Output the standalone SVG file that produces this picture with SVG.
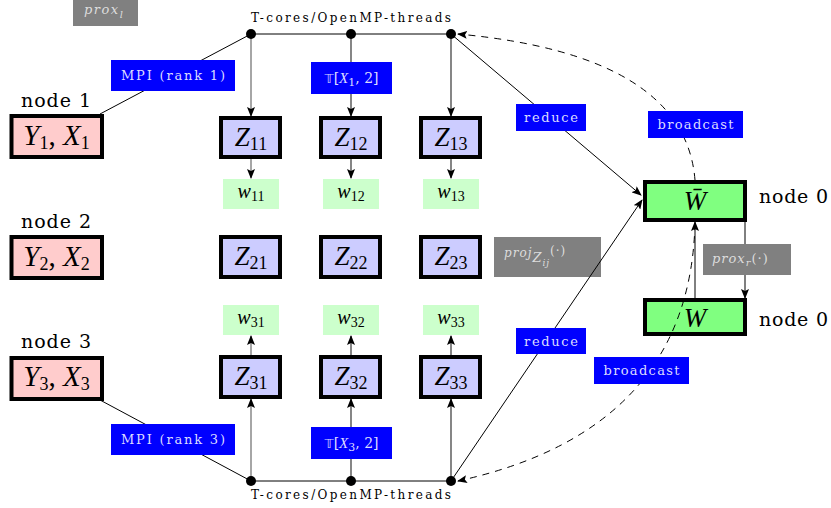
<svg xmlns="http://www.w3.org/2000/svg" width="831" height="508" viewBox="0 0 831 508">
<style>
text{font-family:"Liberation Serif","DejaVu Serif",serif;fill:#000}
.it{font-style:italic}
.big{font-size:27px}
.yxt{font-size:29px}
.sub{font-size:18px}
.nlab{font-family:"DejaVu Serif","Liberation Serif",serif;font-size:19px}
.yx rect{fill:#ffcccc;stroke:#000;stroke-width:4}
.z rect{fill:#ccccff;stroke:#000;stroke-width:4}
.wb rect{fill:#80ff80;stroke:#000;stroke-width:4}
.wl rect{fill:#ccffcc}
.wl text{font-size:20px}
.blue rect{fill:#0000ff}
.blue text{fill:#dcdcff;font-size:13px;font-family:"DejaVu Serif","Liberation Serif",serif}
.gray rect{fill:#808080}
.gray text{fill:#dddddd;font-family:"DejaVu Serif","Liberation Serif",serif}
.ln{stroke:#000;stroke-width:1;fill:none}
.gl{stroke:#808080;stroke-width:1.4;fill:none}
.dl{stroke:#222;stroke-width:1.1;fill:none}
.dash{stroke:#000;stroke-width:1;fill:none;stroke-dasharray:7 6}
.bus{font-size:12px;font-family:"DejaVu Serif","Liberation Serif",serif}
</style>
<defs>
<marker id="ah" markerWidth="10" markerHeight="8" refX="9" refY="4" orient="auto" markerUnits="userSpaceOnUse">
<path d="M0,0 L10,4 L0,8 L2,4 Z" fill="#000"/>
</marker>
</defs>

<!-- data nodes -->
<g id="node1" class="yx">
<rect x="11.5" y="116" width="90.5" height="41"/>
<text x="21" y="107" class="nlab" textLength="70">node 1</text>
<text x="56.5" y="145" class="yxt" text-anchor="middle"><tspan class="it">Y</tspan><tspan class="sub" dy="4">1</tspan><tspan dy="-4">, </tspan><tspan class="it">X</tspan><tspan class="sub" dy="4">1</tspan></text>
</g>
<g id="node2" class="yx">
<rect x="11.5" y="237" width="90.5" height="41"/>
<text x="21" y="228" class="nlab" textLength="70">node 2</text>
<text x="56.5" y="266" class="yxt" text-anchor="middle"><tspan class="it">Y</tspan><tspan class="sub" dy="4">2</tspan><tspan dy="-4">, </tspan><tspan class="it">X</tspan><tspan class="sub" dy="4">2</tspan></text>
</g>
<g id="node3" class="yx">
<rect x="11.5" y="358" width="90.5" height="41"/>
<text x="21" y="348" class="nlab" textLength="70">node 3</text>
<text x="56.5" y="386" class="yxt" text-anchor="middle"><tspan class="it">Y</tspan><tspan class="sub" dy="4">3</tspan><tspan dy="-4">, </tspan><tspan class="it">X</tspan><tspan class="sub" dy="4">3</tspan></text>
</g>

<!-- Z nodes -->
<g id="Z11" class="z"><rect x="221" y="118" width="59" height="39"/><text x="251" y="146" class="big" text-anchor="middle"><tspan class="it">Z</tspan><tspan class="sub" dy="4">11</tspan></text></g>
<g id="Z12" class="z"><rect x="321" y="118" width="59" height="39"/><text x="351" y="146" class="big" text-anchor="middle"><tspan class="it">Z</tspan><tspan class="sub" dy="4">12</tspan></text></g>
<g id="Z13" class="z"><rect x="421" y="118" width="59" height="39"/><text x="451" y="146" class="big" text-anchor="middle"><tspan class="it">Z</tspan><tspan class="sub" dy="4">13</tspan></text></g>
<g id="Z21" class="z"><rect x="221" y="237" width="59" height="40"/><text x="251" y="265" class="big" text-anchor="middle"><tspan class="it">Z</tspan><tspan class="sub" dy="4">21</tspan></text></g>
<g id="Z22" class="z"><rect x="321" y="237" width="59" height="40"/><text x="351" y="265" class="big" text-anchor="middle"><tspan class="it">Z</tspan><tspan class="sub" dy="4">22</tspan></text></g>
<g id="Z23" class="z"><rect x="421" y="237" width="59" height="40"/><text x="451" y="265" class="big" text-anchor="middle"><tspan class="it">Z</tspan><tspan class="sub" dy="4">23</tspan></text></g>
<g id="Z31" class="z"><rect x="221" y="357" width="59" height="40"/><text x="251" y="385" class="big" text-anchor="middle"><tspan class="it">Z</tspan><tspan class="sub" dy="4">31</tspan></text></g>
<g id="Z32" class="z"><rect x="321" y="357" width="59" height="40"/><text x="351" y="385" class="big" text-anchor="middle"><tspan class="it">Z</tspan><tspan class="sub" dy="4">32</tspan></text></g>
<g id="Z33" class="z"><rect x="421" y="357" width="59" height="40"/><text x="451" y="385" class="big" text-anchor="middle"><tspan class="it">Z</tspan><tspan class="sub" dy="4">33</tspan></text></g>

<!-- w labels -->
<g id="w11" class="wl"><rect x="223" y="179" width="56" height="30"/><text x="251" y="198" text-anchor="middle"><tspan class="it">w</tspan><tspan font-size="14" dy="3">11</tspan></text></g>
<g id="w12" class="wl"><rect x="323" y="179" width="56" height="30"/><text x="351" y="198" text-anchor="middle"><tspan class="it">w</tspan><tspan font-size="14" dy="3">12</tspan></text></g>
<g id="w13" class="wl"><rect x="423" y="179" width="56" height="30"/><text x="451" y="198" text-anchor="middle"><tspan class="it">w</tspan><tspan font-size="14" dy="3">13</tspan></text></g>
<g id="w31" class="wl"><rect x="223" y="305" width="56" height="30"/><text x="251" y="324" text-anchor="middle"><tspan class="it">w</tspan><tspan font-size="14" dy="3">31</tspan></text></g>
<g id="w32" class="wl"><rect x="323" y="305" width="56" height="30"/><text x="351" y="324" text-anchor="middle"><tspan class="it">w</tspan><tspan font-size="14" dy="3">32</tspan></text></g>
<g id="w33" class="wl"><rect x="423" y="305" width="56" height="30"/><text x="451" y="324" text-anchor="middle"><tspan class="it">w</tspan><tspan font-size="14" dy="3">33</tspan></text></g>

<!-- W nodes -->
<g id="Wbar" class="wb">
<rect x="645" y="182" width="100" height="38"/>
<text x="695" y="210" class="big it" text-anchor="middle">W̄</text>
<text x="759" y="203" class="nlab" textLength="69">node 0</text>
</g>
<g id="W" class="wb">
<rect x="645" y="300" width="100" height="34"/>
<text x="695" y="327" class="big it" text-anchor="middle">W</text>
<text x="759" y="326" class="nlab" textLength="69">node 0</text>
</g>

<!-- gray operator labels -->
<g id="proxl" class="gray">
<rect x="73" y="0" width="65" height="26"/>
<text x="84" y="14" letter-spacing="1.5"><tspan class="it" font-size="13">prox</tspan><tspan class="it" font-size="10" dy="4">l</tspan></text>
</g>
<g id="projZ" class="gray">
<rect x="494" y="237" width="107" height="40"/>
<text x="504" y="257" letter-spacing="1"><tspan class="it" font-size="12">proj</tspan><tspan class="it" font-size="13" dy="5">Z</tspan><tspan class="it" font-size="9" dy="4">ij</tspan><tspan font-size="12" dy="-11">(·)</tspan></text>
</g>

<!-- connectors -->
<g id="connectors">
<line class="ln" x1="251" y1="34" x2="451" y2="34"/>
<line class="ln" x1="251" y1="481" x2="451" y2="481"/>
<line class="ln" x1="100" y1="114" x2="251" y2="34"/>
<line class="ln" x1="100" y1="400" x2="251" y2="481"/>
<line class="gl" x1="251" y1="34" x2="251" y2="116" marker-end="url(#ah)"/>
<line class="dl" x1="351" y1="34" x2="351" y2="116" marker-end="url(#ah)"/>
<line class="dl" x1="451" y1="34" x2="451" y2="116" marker-end="url(#ah)"/>
<line class="gl" x1="251" y1="481" x2="251" y2="399" marker-end="url(#ah)"/>
<line class="dl" x1="351" y1="481" x2="351" y2="399" marker-end="url(#ah)"/>
<line class="dl" x1="451" y1="481" x2="451" y2="399" marker-end="url(#ah)"/>
<line class="gl" x1="251" y1="159" x2="251" y2="178" marker-end="url(#ah)"/>
<line class="dl" x1="351" y1="159" x2="351" y2="178" marker-end="url(#ah)"/>
<line class="dl" x1="451" y1="159" x2="451" y2="178" marker-end="url(#ah)"/>
<line class="gl" x1="251" y1="355" x2="251" y2="336" marker-end="url(#ah)"/>
<line class="dl" x1="351" y1="355" x2="351" y2="336" marker-end="url(#ah)"/>
<line class="dl" x1="451" y1="355" x2="451" y2="336" marker-end="url(#ah)"/>
<line class="ln" x1="451" y1="34" x2="641" y2="195" marker-end="url(#ah)"/>
<line class="ln" x1="451" y1="481" x2="642" y2="200" marker-end="url(#ah)"/>
<line class="ln" x1="745" y1="222" x2="745" y2="298" marker-end="url(#ah)"/>
<line class="ln" x1="695" y1="298" x2="695" y2="222" marker-end="url(#ah)"/>
<path class="dash" d="M695,180 Q685,55 458,34" marker-end="url(#ah)"/>
<path class="dash" d="M695,223 Q690,430 458,481" marker-end="url(#ah)"/>
<circle cx="251" cy="34" r="5"/><circle cx="351" cy="34" r="5"/><circle cx="451" cy="34" r="5"/>
<circle cx="251" cy="481" r="5"/><circle cx="351" cy="481" r="5"/><circle cx="451" cy="481" r="5"/>
<text x="351" y="22" class="bus" text-anchor="middle" textLength="200">T-cores/OpenMP-threads</text>
<text x="351" y="499" class="bus" text-anchor="middle" textLength="200">T-cores/OpenMP-threads</text>
<g class="blue">
<rect x="111" y="60" width="124" height="31"/><text x="173" y="80" text-anchor="middle" textLength="104">MPI (rank 1)</text>
<rect x="111" y="424" width="124" height="31"/><text x="173" y="444" text-anchor="middle" textLength="104">MPI (rank 3)</text>
<rect x="311" y="62" width="81" height="32"/><text x="351.5" y="83" text-anchor="middle"><tspan font-family="DejaVu Sans" font-size="13">𝕋</tspan><tspan font-size="14">[</tspan><tspan font-family="Liberation Serif" class="it" font-size="15">X</tspan><tspan font-size="11" dy="3">1</tspan><tspan font-size="14" dy="-3">, 2]</tspan></text>
<rect x="311" y="427" width="81" height="32"/><text x="351.5" y="448" text-anchor="middle"><tspan font-family="DejaVu Sans" font-size="13">𝕋</tspan><tspan font-size="14">[</tspan><tspan font-family="Liberation Serif" class="it" font-size="15">X</tspan><tspan font-size="11" dy="3">3</tspan><tspan font-size="14" dy="-3">, 2]</tspan></text>
<rect x="516" y="104" width="70" height="27"/><text x="551" y="122" text-anchor="middle" textLength="54">reduce</text>
<rect x="516" y="328" width="70" height="26"/><text x="551" y="346" text-anchor="middle" textLength="54">reduce</text>
<rect x="648" y="111" width="95" height="27"/><text x="695.5" y="129" text-anchor="middle" textLength="76">broadcast</text>
<rect x="594" y="357" width="95" height="27"/><text x="641.5" y="375" text-anchor="middle" textLength="76">broadcast</text>
</g>
<g class="gray">
<rect x="703" y="244" width="88" height="31"/>
<text x="712" y="263" letter-spacing="1"><tspan class="it" font-size="13">prox</tspan><tspan class="it" font-size="10" dy="3">r</tspan><tspan font-size="13" dy="-3">(·)</tspan></text>
</g>
</g>
</svg>
